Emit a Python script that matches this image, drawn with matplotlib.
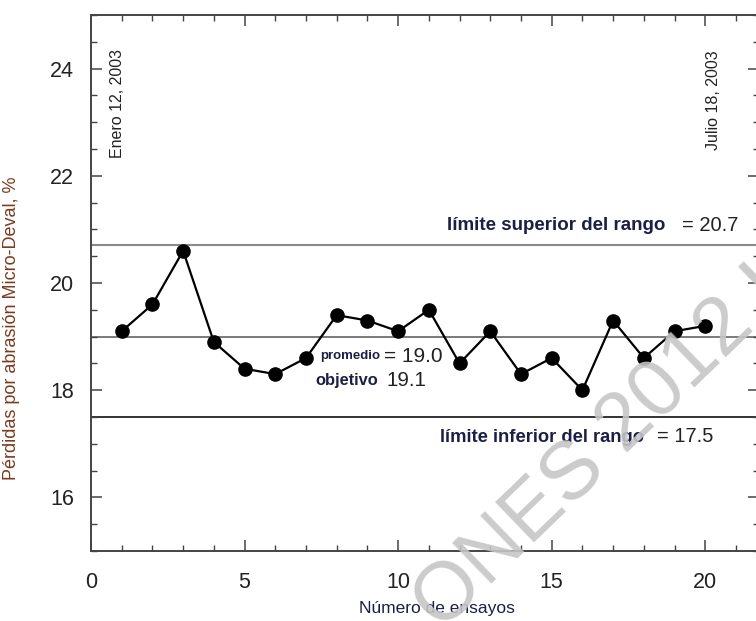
import matplotlib
matplotlib.use("Agg")
import matplotlib.pyplot as plt
from matplotlib.ticker import MultipleLocator

plt.rcParams['font.family'] = ['Liberation Sans', 'DejaVu Sans']

ensayos = list(range(1, 21))
perdidas = [19.1, 19.6, 20.6, 18.9, 18.4, 18.3, 18.6, 19.4, 19.3, 19.1,
            19.5, 18.5, 19.1, 18.3, 18.6, 18.0, 19.3, 18.6, 19.1, 19.2]
limite_superior = 20.7
promedio = 19.0
objetivo = 19.1
limite_inferior = 17.5
xticks = [0, 5, 10, 15, 20]
yticks = [16, 18, 20, 22, 24]

fig = plt.figure(figsize=(7.56, 6.21), dpi=100)
ax = fig.add_axes([91/756, 70/621, 668/756, 536/621])
ax.set_xlim(0, 21.75)
ax.set_ylim(15, 25)

navy = '#1b1f45'
dark = '#222222'

ax.axhline(limite_superior, color='#8a8a8a', lw=1.5, zorder=1)
ax.axhline(promedio, color='#7a7a7a', lw=1.4, zorder=1)
ax.axhline(limite_inferior, color='#333333', lw=1.4, zorder=1)

ax.plot(ensayos, perdidas, color='black', lw=1.6, marker='o', ms=9.5,
        markerfacecolor='black', zorder=3)

for s in ax.spines.values():
    s.set_color('#444444')
    s.set_linewidth(1.4)

ax.set_xticks(xticks)
ax.set_yticks(yticks)
ax.xaxis.set_minor_locator(MultipleLocator(1))
ax.yaxis.set_minor_locator(MultipleLocator(0.5))
ax.tick_params(which='both', direction='in', top=True, right=True,
               colors='#444444', labelcolor=dark, labelsize=15.5)
ax.tick_params(which='major', length=8, width=1.1)
ax.tick_params(which='minor', length=4, width=1.0)
ax.tick_params(axis='x', pad=15)
ax.tick_params(axis='y', pad=12)

ax.set_ylabel('Pérdidas por abrasión Micro-Deval, %', fontsize=13,
              color='#7a3b1e')
ax.yaxis.set_label_coords(-0.107, 0.416)
ax.set_xlabel('Número de ensayos', fontsize=12.5, color=navy)
ax.xaxis.set_label_coords(0.518, -0.093)

def px(x, y):
    # convert pixel coords of figure to axes fraction
    return ((x - 91) / 668, (551 - y) / 536)

def two_part(xb, xn, y, bold, num, bsize, nsize):
    ax.text(*px(xb, y), bold, transform=ax.transAxes, fontsize=bsize,
            fontweight='bold', color=navy, ha='left', va='center')
    ax.text(*px(xn, y), num, transform=ax.transAxes, fontsize=nsize,
            color=dark, ha='left', va='center')

two_part(447, 682, 225, 'límite superior del rango', f'= {limite_superior}', 13.5, 14.5)
two_part(320, 384, 356, 'promedio', f'= {promedio}', 9.5, 15)
two_part(315, 387, 381, 'objetivo', f'{objetivo}', 11.8, 14.8)
two_part(440, 657, 437, 'límite inferior del rango', f'= {limite_inferior}', 13.2, 14.5)

ax.text(*px(118, 158), 'Enero 12, 2003', transform=ax.transAxes, rotation=90,
        fontsize=11.5, color=dark, ha='center', va='bottom')
ax.text(*px(713, 150), 'Julio 18, 2003', transform=ax.transAxes, rotation=90,
        fontsize=11.5, color=dark, ha='center', va='bottom')

fig.text(601/756, 1 - 449/621, 'ONES 2012 I', fontsize=59, rotation=44,
         rotation_mode='anchor', color='#c6c6c6', alpha=0.9,
         ha='center', va='center', zorder=10)

fig.savefig('out.png', dpi=100)
